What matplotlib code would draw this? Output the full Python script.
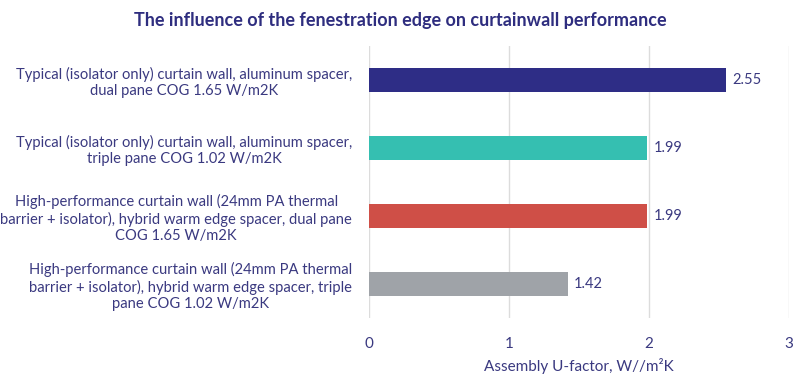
import matplotlib
matplotlib.use('Agg')
import matplotlib.pyplot as plt

categories = [
    'Typical (isolator only) curtain wall, aluminum spacer,\ndual pane COG 1.65 W/m2K',
    'Typical (isolator only) curtain wall, aluminum spacer,\ntriple pane COG 1.02 W/m2K',
    'High-performance curtain wall (24mm PA thermal\nbarrier + isolator), hybrid warm edge spacer, dual pane\nCOG 1.65 W/m2K',
    'High-performance curtain wall (24mm PA thermal\nbarrier + isolator), hybrid warm edge spacer, triple\npane COG 1.02 W/m2K',
]
values = [2.55, 1.99, 1.99, 1.42]
colors = ['#2e2d86', '#35bfb1', '#cf4f47', '#9fa3a8']
xticks = [0, 1, 2, 3]

text_color = '#3a3980'
plt.rcParams['font.family'] = ['Lato', 'DejaVu Sans']

fig = plt.figure(figsize=(8, 3.91), dpi=100)
ax = fig.add_axes([0.461, 0.1867, 0.525, 0.6957])

ypos = list(range(len(values)))
ax.barh(ypos, values, height=0.36, color=colors, zorder=3)
for y, v in zip(ypos, values):
    ax.text(v + 0.045, y, f'{v:.2f}', va='center', ha='left', fontsize=10.5, color=text_color)

ax.set_ylim(3.5, -0.5)
ax.set_xlim(0, 3)
ax.set_xticks(xticks)
ax.set_xticklabels([str(t) for t in xticks], fontsize=11, color=text_color)
ax.tick_params(axis='x', length=0, pad=14)
ax.set_yticks(ypos)
ax.set_yticklabels(categories, fontsize=10.6, color=text_color, ha='right', ma='center')
ax.tick_params(axis='y', length=0, pad=12)
ax.grid(axis='x', color='#dcdcdc', linewidth=1, zorder=0)
for s in ax.spines.values():
    s.set_visible(False)

ax.set_xlabel('Assembly U-factor, W//m²K', fontsize=11, color=text_color, labelpad=5)
fig.text(0.5, 0.948, 'The influence of the fenestration edge on curtainwall performance',
         ha='center', va='center', fontsize=13, fontweight='bold', color='#2e2d7f')

fig.savefig('out.png', dpi=100)
